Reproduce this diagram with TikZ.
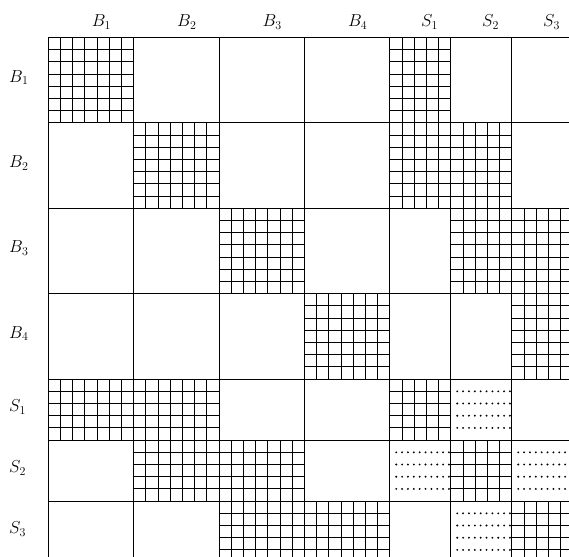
\documentclass[tikz,border=0pt]{standalone}
\tikzset{
  major/.style={line width=1.1pt},
  minor/.style={line width=1.1pt},
  lbl/.style={font=\fontsize{17}{20}\selectfont, inner sep=0pt, anchor=base west},
}
\begin{document}
\begin{tikzpicture}[x=12.2pt,y=-12.2pt]
\useasboundingbox (-3.959,-3.074) rectangle (42.68,42.58);
\clip (-3.959,-3.074) rectangle (42.68,42.58);
% hatched (gridded) blocks
\foreach \a/\b/\p/\q in {0/7/0/7, 28/33/0/7,
  7/14/7/14, 28/33/7/14, 33/38/7/14,
  14/21/14/21, 33/38/14/21, 38/43/14/21,
  21/28/21/28, 38/43/21/28,
  0/7/28/33, 7/14/28/33, 28/33/28/33,
  7/14/33/38, 14/21/33/38, 33/38/33/38,
  14/21/38/43, 21/28/38/43, 38/43/38/43}{
  \foreach \i in {\a,...,\b} \draw[minor] (\i,\p) -- (\i,\q);
  \foreach \j in {\p,...,\q} \draw[minor] (\a,\j) -- (\b,\j);
}
% dotted blocks
\foreach \a/\p in {33/28, 28/33, 38/33, 33/38}{
  \foreach \k in {0,...,9}
    \foreach \r in {1,...,4}
      \fill (\a+0.52+\k*0.48, \p+\r) circle (1.05pt);
}
% block boundaries
\foreach \v in {0,7,14,21,28,33,38,43}{
  \draw[major] (\v,0) -- (\v,43);
  \draw[major] (0,\v) -- (43,\v);
}
% labels
\foreach \n/\t/\cc in {B1/B_1/3.5, B2/B_2/10.5, B3/B_3/17.5, B4/B_4/24.5, S1/S_1/30.5, S2/S_2/35.5, S3/S_3/40.5}{
  \node[lbl] (c\n) at (\cc+0.05,-0.9) {$\t$};
  \node[lbl] (r\n) at (-3.22,\cc+0.15) {$\t$};
}
\end{tikzpicture}
\end{document}
